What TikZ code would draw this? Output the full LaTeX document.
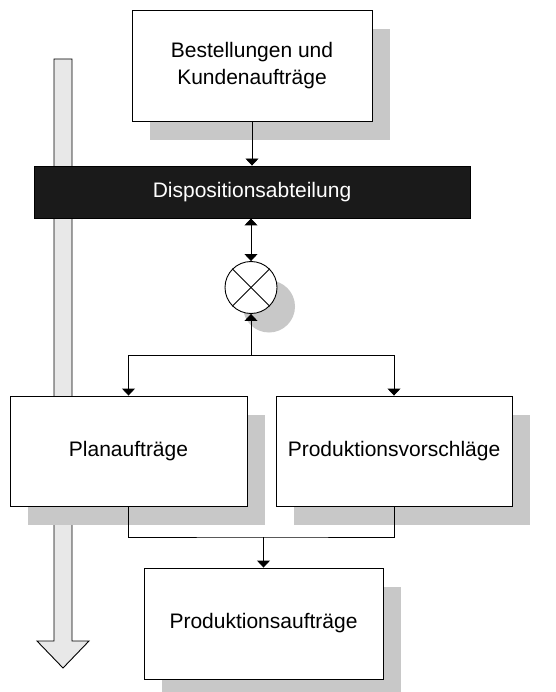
\documentclass[tikz,border=0pt]{standalone}
\usepackage{fontspec}
\setmainfont{Liberation Sans}
\usepackage{tikz}
\usetikzlibrary{shapes.geometric, arrows.meta, positioning, calc, shadows}
\definecolor{DispoBlack}{RGB}{26, 26, 26}
\definecolor{ShadowGray}{RGB}{200, 200, 200}
\definecolor{FlowGray}{RGB}{232, 232, 232}

\begin{document}
\begin{tikzpicture}[x=1pt,y=-1pt,
  box/.style={draw, line width=0.9pt, fill=white, inner sep=0pt, align=center,
    font=\fontsize{21}{27}\selectfont,
    drop shadow={shadow xshift=18pt, shadow yshift=-19pt, fill=ShadowGray, opacity=1}},
  dispobar/.style={draw, line width=0.9pt, fill=DispoBlack, text=white, inner sep=0pt,
    minimum width=436pt, minimum height=52pt, font=\fontsize{21}{27}\selectfont},
  mixer/.style={circle, draw, line width=0.9pt, fill=white, minimum size=52pt, inner sep=0pt,
    drop shadow={shadow xshift=18pt, shadow yshift=-19pt, fill=ShadowGray, opacity=1}},
  link/.style={line width=0.9pt},
  tip/.style={line width=0.9pt, -{Triangle[width=13pt,length=7pt]}},
  dbltip/.style={line width=0.9pt, {Triangle[width=13pt,length=7pt]}-{Triangle[width=13pt,length=7pt]}}]
  \path[use as bounding box] (0,0) rectangle (555,692);
  \fill[white] (0,0) rectangle (555,692);
  % broad flow arrow behind everything
  \draw[line width=0.9pt, fill=FlowGray]
    (54,59) -- (72,59) -- (72,641) -- (89,641) -- (63,668) -- (37,641) -- (54,641) -- cycle;
  \node[box, minimum width=240pt, minimum height=111pt] (best) at (252,65.5)
    {Bestellungen und\\Kundenaufträge};
  \node[dispobar] (dispo) at (252,192) {Dispositionsabteilung};
  \node[mixer] (mix) at (251,287.5) {};
  \draw[link] (mix.north west) -- (mix.south east);
  \draw[link] (mix.north east) -- (mix.south west);
  \node[box, minimum width=237pt, minimum height=110pt] (plan) at (128.5,451) {Planaufträge};
  \node[box, minimum width=236pt, minimum height=110pt] (vorschl) at (394,451) {Produktionsvorschläge};
  \node[box, minimum width=239pt, minimum height=111pt] (auftr) at (263.5,623.5) {Produktionsaufträge};
  \coordinate (split) at (251,355);
  \coordinate (join) at (263.5,537);
  \draw[tip] (best.south -| dispo.north) -- (dispo.north);
  \draw[dbltip] (dispo.south -| mix.north) -- (mix.north);
  \draw[tip] (split) -- (mix.south);
  \draw[tip] (split) -| (plan.north);
  \draw[tip] (split) -| (vorschl.north);
  \draw[link] (plan.south) |- (join) -| (vorschl.south);
  \draw[tip] (join) -- (auftr.north);
\end{tikzpicture}
\end{document}
